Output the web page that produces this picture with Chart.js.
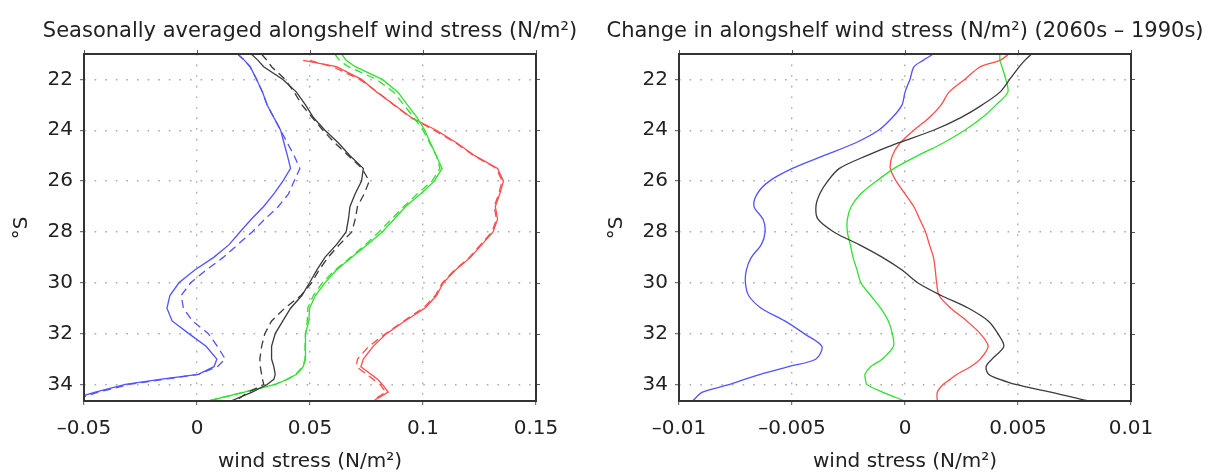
<!DOCTYPE html>
<html>
<head>
<meta charset="utf-8">
<script src="https://cdn.jsdelivr.net/npm/chart.js@4.4.1/dist/chart.umd.min.js"></script>
<style>
  html, body { margin: 0; padding: 0; background: #fff; }
  #wrap { position: relative; width: 1214px; height: 475px; }
  canvas { position: absolute; top: 0; }
</style>
</head>
<body>
<div id="wrap">
  <canvas id="left" width="607" height="475" style="left:0"></canvas>
  <canvas id="right" width="607" height="475" style="left:607px"></canvas>
</div>
<script>
// latitude (°S) of every sample, shared by all profiles
const lat = [21, 21.25, 21.5, 22, 22.5, 23, 23.5, 24, 24.5, 25, 25.5, 26, 26.5, 27, 27.5, 28,
  28.5, 29, 29.5, 30, 30.5, 31, 31.5, 32, 32.5, 33, 33.3, 33.6, 33.8, 34, 34.3, 34.65];

// left panel: seasonal means, solid = 1990s, dashed = 2060s
const blueSolid = [0.018, 0.021, 0.0235, 0.0264, 0.029, 0.031, 0.034, 0.037, 0.0385, 0.040, 0.0414, 0.038, 0.034, 0.0295, 0.024, 0.019,
  0.0142, 0.0074, -0.001, -0.008, -0.012, -0.0133, -0.011, -0.0036, 0.004, 0.0088, 0.0075, 0.0006, -0.0164, -0.0317, -0.045, -0.058];
const blueDash = [0.018, 0.021, 0.0235, 0.0264, 0.029, 0.031, 0.034, 0.037, 0.040, 0.043, 0.0455, 0.043, 0.0405, 0.036, 0.030, 0.0244,
  0.018, 0.0116, 0.004, -0.0028, -0.007, -0.006, -0.002, 0.005, 0.009, 0.0125, 0.009, 0.0006, -0.0147, -0.030, -0.0435, -0.056];
const blackSolid = [0.024, 0.027, 0.0295, 0.038, 0.044, 0.048, 0.0515, 0.0566, 0.0626, 0.0677, 0.0736, 0.0728, 0.070, 0.0677, 0.067, 0.066,
  0.0617, 0.0566, 0.053, 0.0498, 0.0464, 0.0414, 0.038, 0.0346, 0.033, 0.033, 0.034, 0.0346, 0.034, 0.031, 0.0244, 0.015];
const blackDash = [0.0285, 0.031, 0.033, 0.039, 0.043, 0.0464, 0.051, 0.0557, 0.061, 0.067, 0.073, 0.0762, 0.074, 0.071, 0.070, 0.0685,
  0.063, 0.058, 0.054, 0.0507, 0.046, 0.0388, 0.033, 0.030, 0.0286, 0.0278, 0.028, 0.0286, 0.029, 0.0295, 0.0227, 0.017];
const greenSolid = [0.064, 0.066, 0.070, 0.082, 0.0889, 0.0931, 0.0974, 0.1008, 0.1033, 0.1059, 0.1084, 0.105, 0.099, 0.0923, 0.0872, 0.082,
  0.0753, 0.0685, 0.0617, 0.0566, 0.0524, 0.0498, 0.0495, 0.048, 0.048, 0.048, 0.047, 0.044, 0.040, 0.0346, 0.021, 0.005];
const greenDash = [0.061, 0.063, 0.067, 0.0795, 0.087, 0.0915, 0.096, 0.100, 0.103, 0.1059, 0.1075, 0.104, 0.0975, 0.0915, 0.086, 0.0805,
  0.0745, 0.068, 0.061, 0.0555, 0.0515, 0.049, 0.0488, 0.048, 0.0478, 0.0478, 0.0468, 0.0438, 0.0398, 0.0344, 0.0208, 0.0048];
const redSolid = [null, 0.047, 0.0617, 0.0728, 0.0796, 0.0872, 0.0948, 0.1059, 0.115, 0.1229, 0.133, 0.1356, 0.134, 0.132, 0.133, 0.131,
  0.126, 0.121, 0.1144, 0.109, 0.106, 0.1008, 0.092, 0.0838, 0.0779, 0.0736, 0.0725, 0.077, 0.080, 0.082, 0.0846, 0.078];
const redDash = [null, 0.050, 0.060, 0.072, 0.080, 0.087, 0.0945, 0.105, 0.1145, 0.1225, 0.1325, 0.135, 0.1335, 0.1315, 0.1325, 0.1305,
  0.1255, 0.1205, 0.114, 0.1085, 0.1055, 0.100, 0.0915, 0.0835, 0.076, 0.071, 0.0705, 0.075, 0.078, 0.081, 0.0835, 0.0775];

// right panel: change 2060s - 1990s
const chgBlue = [0.00125, 0.0008, 0.0004, 0.00022, 0.0, -0.00013, -0.00056, -0.00117, -0.0022, -0.0036, -0.00498, -0.006, -0.00654, -0.00668, -0.00628, -0.00619,
  -0.00636, -0.0068, -0.00702, -0.00706, -0.00692, -0.00636, -0.00532, -0.00446, -0.00368, -0.00394, -0.00515, -0.0064, -0.0071, -0.00775, -0.00896, -0.0094];
const chgBlack = [0.0056, 0.0053, 0.00506, 0.00463, 0.0042, 0.00342, 0.00247, 0.00126, -0.0003, -0.00169, -0.0029, -0.00342, -0.00377, -0.00394, -0.00385, -0.00315,
  -0.00203, -0.001, -0.00013, 0.00056, 0.0016, 0.00281, 0.00368, 0.00411, 0.00437, 0.00385, 0.00359, 0.0037, 0.0042, 0.00489, 0.00645, 0.0081];
const chgGreen = [0.0042, 0.0042, 0.00429, 0.00446, 0.00455, 0.00403, 0.00342, 0.00264, 0.00169, 0.00056, -0.00048, -0.00126, -0.00195, -0.00238, -0.00255, -0.00255,
  -0.00242, -0.0023, -0.00212, -0.00195, -0.00152, -0.00108, -0.00074, -0.00056, -0.00051, -0.001, -0.00152, -0.00177, -0.00175, -0.00169, -0.001, 0.0];
const chgRed = [0.0046, 0.0042, 0.00333, 0.00264, 0.00195, 0.0016, 0.00108, 0.00039, -0.00022, -0.00056, -0.00065, -0.00039, 0.0, 0.00039, 0.00065, 0.00091,
  0.00108, 0.00126, 0.00134, 0.0014, 0.00151, 0.00203, 0.00273, 0.00333, 0.00368, 0.00333, 0.0029, 0.0023, 0.002, 0.00169, 0.00143, 0.00143];

const leftXTicks = [-0.05, 0, 0.05, 0.1, 0.15];
const rightXTicks = [-0.01, -0.005, 0, 0.005, 0.01];
const latTicks = [22, 24, 26, 28, 30, 32, 34];

const BLUE = "#5252ff", BLACK = "#3a3a3a", GREEN = "#30e030", RED = "#ff4c4c";
const FONT = "'DejaVu Sans', sans-serif";

function series(values, color, dashed, tension) {
  return {
    data: lat.map((y, i) => ({ x: values[i], y })).filter((p) => p.x !== null),
    showLine: true, borderColor: color, borderWidth: 1.3, borderDash: dashed ? [8, 5] : [],
    pointRadius: 0, fill: false, tension: tension,
  };
}

function tickLabel(v) {
  return v < 0 ? "\u2013" + String(-v) : String(v);
}

const framePlugin = {
  id: "frame",
  afterDraw(chart, args, opts) {
    const { ctx, chartArea: a, scales } = chart;
    ctx.save();
    ctx.strokeStyle = "#555";
    ctx.lineWidth = 1;
    ctx.beginPath();
    scales.x.ticks.forEach((t) => {
      const px = Math.round(scales.x.getPixelForValue(t.value)) + 0.5;
      ctx.moveTo(px, a.top); ctx.lineTo(px, a.top - 4);
    });
    scales.y.ticks.forEach((t) => {
      const py = Math.round(scales.y.getPixelForValue(t.value)) + 0.5;
      ctx.moveTo(a.right, py); ctx.lineTo(a.right + 4, py);
    });
    ctx.stroke();
    ctx.strokeStyle = "#333";
    ctx.lineWidth = 2;
    ctx.strokeRect(a.left, a.top, a.right - a.left, a.bottom - a.top);

    ctx.fillStyle = "#222";
    ctx.textAlign = "center";
    ctx.textBaseline = "alphabetic";
    const cx = (a.left + a.right) / 2;
    ctx.font = "21px " + FONT;
    ctx.fillText(opts.title, cx, 37);
    ctx.font = "20px " + FONT;
    ctx.fillText("wind stress (N/m\u00b2)", cx, 467);
    ctx.translate(a.left - 62, 228);
    ctx.rotate(-Math.PI / 2);
    ctx.textBaseline = "middle";
    ctx.fillText("\u00b0S", 0, 0);
    ctx.restore();
  },
};

function makeChart(id, datasets, xMin, xMax, xTicks, yWidth, padRight, title) {
  const grid = { color: "#ababab", lineWidth: 1.4, tickLength: 4, tickColor: "#555", tickWidth: 1 };
  return new Chart(document.getElementById(id), {
    type: "scatter",
    data: { datasets },
    plugins: [framePlugin],
    options: {
      responsive: false, animation: false,
      layout: { padding: { top: 54, right: padRight, left: 0, bottom: 0 } },
      plugins: { legend: { display: false }, tooltip: { enabled: false }, frame: { title } },
      scales: {
        x: {
          type: "linear", min: xMin, max: xMax,
          afterBuildTicks: (s) => { s.ticks = xTicks.map((v) => ({ value: v })); },
          afterFit: (s) => { s.height = 74; },
          grid,
          border: { display: false, dash: [1.6, 9] },
          ticks: { color: "#222", font: { family: FONT, size: 20 }, padding: 12, maxRotation: 0, callback: tickLabel },
        },
        y: {
          type: "linear", reverse: true, min: 21, max: 34.65,
          afterBuildTicks: (s) => { s.ticks = latTicks.map((v) => ({ value: v })); },
          afterFit: (s) => { s.width = yWidth; },
          grid,
          border: { display: false, dash: [1.6, 9] },
          ticks: { color: "#222", font: { family: FONT, size: 20 }, padding: 7 },
        },
      },
    },
  });
}

makeChart("left", [
  series(blueSolid, BLUE, false, 0), series(blueDash, BLUE, true, 0),
  series(blackSolid, BLACK, false, 0), series(blackDash, BLACK, true, 0),
  series(greenSolid, GREEN, false, 0), series(greenDash, GREEN, true, 0),
  series(redSolid, RED, false, 0), series(redDash, RED, true, 0),
], -0.05, 0.15, leftXTicks, 84, 71, "Seasonally averaged alongshelf wind stress (N/m\u00b2)");

makeChart("right", [
  series(chgBlue, BLUE, false, 0.3), series(chgBlack, BLACK, false, 0.3),
  series(chgGreen, GREEN, false, 0.3), series(chgRed, RED, false, 0.3),
], -0.01, 0.01, rightXTicks, 72, 83, "Change in alongshelf wind stress (N/m\u00b2) (2060s \u2013 1990s)");
</script>
</body>
</html>
